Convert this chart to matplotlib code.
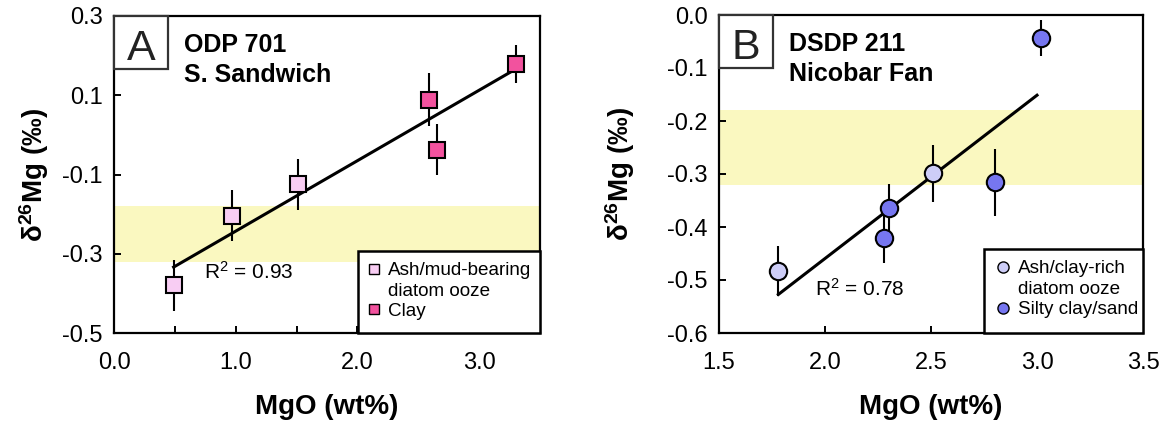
import numpy as np
import matplotlib
matplotlib.use('Agg')
import matplotlib.pyplot as plt
from matplotlib.lines import Line2D
from matplotlib.patches import Rectangle

plt.rcParams['font.family'] = ['Liberation Sans', 'DejaVu Sans']
plt.rcParams['mathtext.fontset'] = 'custom'
plt.rcParams['mathtext.rm'] = 'Liberation Sans'
plt.rcParams['mathtext.it'] = 'Liberation Sans:italic'
plt.rcParams['mathtext.bf'] = 'Liberation Sans:bold'
plt.rcParams['axes.unicode_minus'] = False

# ---------------- data ----------------
# Panel A: ODP 701, S. Sandwich
a_ash_mgo = [0.49, 0.97, 1.51]
a_ash_d26 = [-0.380, -0.204, -0.125]
a_ash_err = [0.064, 0.065, 0.065]
a_clay_mgo = [2.59, 2.65, 3.30]
a_clay_d26 = [0.089, -0.037, 0.179]
a_clay_err = [0.066, 0.064, 0.048]
a_r2 = 0.93

# Panel B: DSDP 211, Nicobar Fan
b_ash_mgo = [1.78, 2.51]
b_ash_d26 = [-0.483, -0.299]
b_ash_err = [0.047, 0.053]
b_silt_mgo = [2.28, 2.30, 2.80, 3.02]
b_silt_d26 = [-0.421, -0.365, -0.316, -0.044]
b_silt_err = [0.046, 0.047, 0.064, 0.034]
b_r2 = 0.78
b_fit_range = [1.78, 3.0]

band = (-0.32, -0.18)

a_xticks = [0.0, 1.0, 2.0, 3.0]
a_yticks = [0.3, 0.1, -0.1, -0.3, -0.5]
b_xticks = [1.5, 2.0, 2.5, 3.0, 3.5]
b_yticks = [0.0, -0.1, -0.2, -0.3, -0.4, -0.5, -0.6]

# ---------------- style ----------------
W, H = 1171, 425
TICK_FS = 17
LAB_FS = 20
TITLE_FS = 18
LEG_FS = 13.6
R2_FS = 15
BAND_COLOR = '#FAF8C0'

fig = plt.figure(figsize=(W / 100, H / 100), dpi=100)


def make_axes(left, right, top, bottom):
    return fig.add_axes([left / W, (H - bottom) / H, (right - left) / W, (bottom - top) / H])


def style_axes(ax, xlim, ylim, xticks, yticks, xminor=None, ylabelpad=8):
    ax.set_xlim(*xlim)
    ax.set_ylim(*ylim)
    ax.set_xticks(xticks)
    ax.set_xticklabels([f'{v:.1f}' for v in xticks])
    if xminor is not None:
        ax.set_xticks(xminor, minor=True)
    ax.set_yticks(yticks)
    ax.set_yticklabels([f'{v:.1f}' for v in yticks])
    for sp in ax.spines.values():
        sp.set_linewidth(1.6)
        sp.set_zorder(6)
    ax.tick_params(which='both', direction='in', length=5, width=1.4,
                   labelsize=TICK_FS, pad=8)
    ax.tick_params(axis='x', which='both', pad=14)
    ax.set_xlabel('MgO (wt%)', fontsize=LAB_FS, fontweight='bold', labelpad=14)
    ax.set_ylabel(r'$\mathbf{\delta^{26}Mg}$ $\mathbf{(‰)}$', fontsize=LAB_FS, labelpad=ylabelpad)
    ax.axhspan(band[0], band[1], color=BAND_COLOR, zorder=0, lw=0)


def panel_tag(ax, letter, t1, t2):
    ax.add_patch(Rectangle((0, 1 - 0.167), 0.127, 0.167, transform=ax.transAxes,
                           facecolor='white', edgecolor='#333333', lw=1.6,
                           zorder=7, clip_on=False))
    ax.text(0.0635, 0.861, letter, transform=ax.transAxes, ha='center', va='baseline',
            fontsize=31, color='#222222', zorder=8)
    ax.text(0.164, 0.886, t1, transform=ax.transAxes, ha='left', va='baseline',
            fontsize=TITLE_FS, fontweight='bold', zorder=8)
    ax.text(0.164, 0.792, t2, transform=ax.transAxes, ha='left', va='baseline',
            fontsize=TITLE_FS, fontweight='bold', zorder=8)


def legend_box(ax, x0, height, handles, labels, hx):
    ax.add_patch(Rectangle((x0, 0), 1 - x0, height, transform=ax.transAxes,
                           facecolor='white', edgecolor='black', lw=1.8,
                           zorder=9, clip_on=False))
    leg = ax.legend(handles, labels, loc='upper left', bbox_to_anchor=(hx, height - 0.035),
                    frameon=False, fontsize=LEG_FS, handlelength=0.8, handletextpad=0.35,
                    labelspacing=0.17, borderpad=0.0, borderaxespad=0.0)
    leg.set_zorder(10)
    return leg


def scatter_err(ax, x, y, e, marker, color, ms):
    ax.errorbar(x, y, yerr=e, fmt='none', ecolor='black', elinewidth=1.5, capsize=0, zorder=3)
    ax.plot(x, y, linestyle='none', marker=marker, ms=ms, mfc=color, mec='black',
            mew=1.5, zorder=4)


# ---------------- Panel A ----------------
axA = make_axes(114, 540, 16, 333)
style_axes(axA, (0, 3.5), (-0.5, 0.3), a_xticks, a_yticks, xminor=[0.5, 1.5, 2.5], ylabelpad=8)
ax_all = np.array(a_ash_mgo + a_clay_mgo)
ay_all = np.array(a_ash_d26 + a_clay_d26)
pa = np.polyfit(ax_all, ay_all, 1)
xa = np.array([ax_all.min(), ax_all.max()])
axA.plot(xa, np.polyval(pa, xa), color='black', lw=2.2, zorder=2)
A_LIGHT = '#F8CDF3'
A_CLAY = '#F2529E'
scatter_err(axA, a_ash_mgo, a_ash_d26, a_ash_err, 's', A_LIGHT, 11.5)
scatter_err(axA, a_clay_mgo, a_clay_d26, a_clay_err, 's', A_CLAY, 11.5)
axA.text(0.74, -0.364, f'R$^2$ = {a_r2:.2f}', fontsize=R2_FS, ha='left', va='baseline', zorder=5)
panel_tag(axA, 'A', 'ODP 701', 'S. Sandwich')
hA = [Line2D([], [], ls='none', marker='s', ms=7, mfc=A_LIGHT, mec='black', mew=1.0),
      Line2D([], [], ls='none'),
      Line2D([], [], ls='none', marker='s', ms=7, mfc=A_CLAY, mec='black', mew=1.0)]
legend_box(axA, 0.572, 0.259, hA, ['Ash/mud-bearing', 'diatom ooze', 'Clay'], 0.592)

# ---------------- Panel B ----------------
axB = make_axes(719, 1143, 15, 333)
style_axes(axB, (1.5, 3.5), (-0.6, 0.0), b_xticks, b_yticks, ylabelpad=22)
bx_all = np.array(b_ash_mgo + b_silt_mgo)
by_all = np.array(b_ash_d26 + b_silt_d26)
pb = np.polyfit(bx_all, by_all, 1)
xb = np.array(b_fit_range)
axB.plot(xb, np.polyval(pb, xb), color='black', lw=2.2, zorder=2)
B_LIGHT = '#CDCDF7'
B_SILT = '#7676F0'
scatter_err(axB, b_ash_mgo, b_ash_d26, b_ash_err, 'o', B_LIGHT, 12.5)
scatter_err(axB, b_silt_mgo, b_silt_d26, b_silt_err, 'o', B_SILT, 12.5)
axB.text(1.955, -0.529, f'R$^2$ = {b_r2:.2f}', fontsize=R2_FS, ha='left', va='baseline', zorder=5)
panel_tag(axB, 'B', 'DSDP 211', 'Nicobar Fan')
hB = [Line2D([], [], ls='none', marker='o', ms=8, mfc=B_LIGHT, mec='black', mew=1.0),
      Line2D([], [], ls='none'),
      Line2D([], [], ls='none', marker='o', ms=8, mfc=B_SILT, mec='black', mew=1.0)]
legend_box(axB, 0.625, 0.264, hB, ['Ash/clay-rich', 'diatom ooze', 'Silty clay/sand'], 0.653)

fig.savefig('out.png', dpi=100)
